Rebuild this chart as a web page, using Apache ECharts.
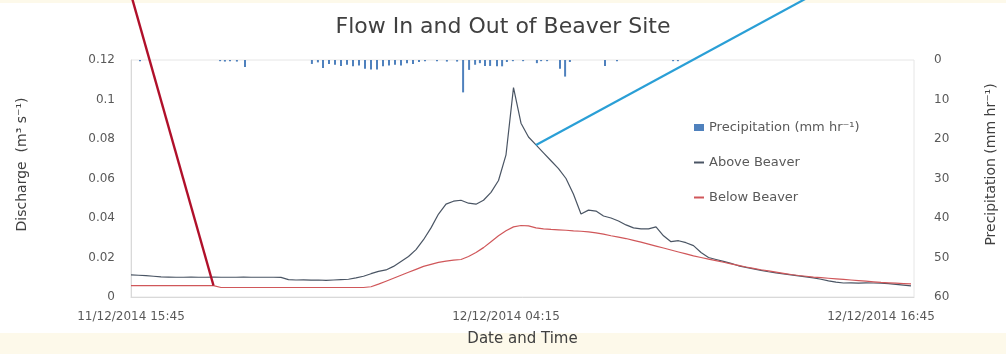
<!DOCTYPE html>
<html><head><meta charset="utf-8">
<script src="https://cdn.jsdelivr.net/npm/echarts@6/dist/echarts.min.js"></script>
<style>html,body{margin:0;padding:0;background:#fdf9ea;}#c{width:1006px;height:354px;}</style>
</head><body><div id="c"></div><script>
// Time step between discharge readings (hours) - 15 minute data
const stepHours = 0.25;
const xTickLabels = ['11/12/2014 15:45', '12/12/2014 04:15', '12/12/2014 16:45'];
const xTickIntervalHours = 12.5;

const aboveBeaver = [
0.0112,0.0110,0.0108,0.0105,0.0102,0.0101,0.0100,0.0100,0.0101,0.0100,
0.0100,0.0101,0.0100,0.0100,0.0100,0.0101,0.0100,0.0100,0.0100,0.0100,
0.0099,0.0088,0.0086,0.0087,0.0085,0.0086,0.0084,0.0086,0.0088,0.0090,
0.0097,0.0105,0.0118,0.0130,0.0137,0.0155,0.0180,0.0205,0.0240,0.0290,
0.0350,0.0420,0.0470,0.0485,0.0490,0.0475,0.0470,0.0490,0.0530,0.0590,
0.0720,0.1060,0.0880,0.0810,0.0770,0.0730,0.0690,0.0650,0.0600,0.0520,
0.0420,0.0440,0.0435,0.0410,0.0400,0.0385,0.0365,0.0350,0.0345,0.0345,
0.0355,0.0310,0.0280,0.0285,0.0275,0.0260,0.0225,0.0200,0.0190,0.0180,
0.0170,0.0158,0.0150,0.0142,0.0135,0.0128,0.0122,0.0117,0.0112,0.0107,
0.0102,0.0097,0.0090,0.0082,0.0075,0.0071,0.0072,0.0070,0.0072,0.0071,
0.0070,0.0068,0.0064,0.0060,0.0056];

const belowBeaver = [
0.0058,0.0058,0.0058,0.0058,0.0058,0.0058,0.0058,0.0058,0.0058,0.0058,
0.0058,0.0058,0.0048,0.0048,0.0048,0.0048,0.0048,0.0048,0.0048,0.0048,
0.0048,0.0048,0.0048,0.0048,0.0048,0.0048,0.0048,0.0048,0.0048,0.0048,
0.0048,0.0048,0.0052,0.0065,0.0080,0.0095,0.0110,0.0125,0.0140,0.0155,
0.0165,0.0175,0.0182,0.0187,0.0190,0.0205,0.0225,0.0250,0.0280,0.0310,
0.0335,0.0355,0.0362,0.0360,0.0350,0.0345,0.0342,0.0340,0.0338,0.0335,
0.0333,0.0330,0.0325,0.0318,0.0310,0.0303,0.0296,0.0287,0.0278,0.0268,
0.0258,0.0248,0.0238,0.0228,0.0218,0.0208,0.0200,0.0192,0.0184,0.0176,
0.0168,0.0160,0.0152,0.0145,0.0138,0.0132,0.0126,0.0120,0.0114,0.0109,
0.0105,0.0101,0.0098,0.0095,0.0092,0.0089,0.0086,0.0083,0.0080,0.0077,
0.0074,0.0072,0.0070,0.0068,0.0066];

// Precipitation: hours since 11/12/2014 15:45, and intensity (mm hr-1)
const precipHours = [0.3,2.97,3.13,3.3,3.53,3.8,6.03,6.23,6.4,6.6,6.8,7.0,7.2,7.4,7.6,7.8,8.0,8.2,8.4,8.6,8.8,9.0,9.2,9.4,9.6,9.8,10.2,10.53,10.87,11.07,11.27,11.47,11.63,11.8,11.97,12.2,12.37,12.53,12.73,13.07,13.53,13.67,13.87,14.3,14.47,14.63,15.8,16.2,18.07,18.23];
const precipMm    = [0.3,0.3,0.4,0.3,0.4,1.8,1.0,0.6,2.0,1.0,1.2,1.5,1.2,1.6,1.4,2.2,2.4,2.4,1.6,1.4,1.2,1.4,0.8,1.0,0.5,0.3,0.3,0.4,0.4,8.2,2.5,1.2,0.8,1.5,1.5,1.6,1.6,0.5,0.3,0.3,0.8,0.3,0.3,2.2,4.2,0.5,1.5,0.3,0.3,0.3];

// Annotation callout anchors (data indexes on the lines)
const redAnchorIndex = 11;
const blueAnchorIndex = 54;

const aboveData = aboveBeaver.map((v, i) => [i * stepHours, v]);
const belowData = belowBeaver.map((v, i) => [i * stepHours, v]);
const precipData = precipHours.map((h, i) => [h, precipMm[i]]);

const FONT = '"DejaVu Sans", "Open Sans", sans-serif';
const chart = echarts.init(document.getElementById('c'));
chart.setOption({
  backgroundColor: '#fdf9ea',
  animation: false,
  textStyle: { fontFamily: FONT },
  graphic: [{ type: 'rect', z: -10, shape: { x: 0, y: 3, width: 1006, height: 330 }, style: { fill: '#ffffff' }, silent: true }],
  title: {
    text: 'Flow In and Out of Beaver Site', left: 'center', top: 11,
    textStyle: { fontFamily: FONT, fontSize: 22, fontWeight: 'normal', color: '#404040' }
  },
  legend: {
    orient: 'vertical', left: 688, top: 116, itemGap: 22, itemWidth: 10, itemHeight: 7,
    textStyle: { fontFamily: FONT, fontSize: 13, color: '#595959' },
    data: [
      { name: 'Precipitation (mm hr⁻¹)', icon: 'rect', itemStyle: { color: '#4f81bd' } },
      { name: 'Above Beaver', itemStyle: { opacity: 0 } },
      { name: 'Below Beaver', itemStyle: { opacity: 0 } }
    ]
  },
  grid: { left: 131, right: 91, top: 60, bottom: 57, show: true, borderColor: '#e6e6e6', borderWidth: 1 },
  xAxis: {
    type: 'value', min: 0, max: 26.1, interval: xTickIntervalHours,
    name: 'Date and Time', nameLocation: 'middle', nameGap: 35,
    nameTextStyle: { fontFamily: FONT, fontSize: 15, color: '#404040' },
    axisLine: { show: true, lineStyle: { color: '#d9d9d9' } },
    axisTick: { show: false }, splitLine: { show: false },
    axisLabel: {
      fontFamily: FONT, fontSize: 12, color: '#595959', margin: 14,
      formatter: v => { const k = v / xTickIntervalHours; return Number.isInteger(k) && xTickLabels[k] ? xTickLabels[k] : ''; }
    }
  },
  yAxis: [{
    type: 'value', min: 0, max: 0.12, interval: 0.02,
    name: 'Discharge  (m³ s⁻¹)', nameLocation: 'middle', nameGap: 102, nameRotate: 90,
    nameTextStyle: { fontFamily: FONT, fontSize: 14, color: '#404040', padding: [0, 0, 0, 28] },
    axisLine: { show: true, lineStyle: { color: '#d9d9d9' } },
    axisTick: { show: false }, splitLine: { show: false },
    axisLabel: { fontFamily: FONT, fontSize: 12, color: '#595959', margin: 16 }
  }, {
    type: 'value', min: 0, max: 60, interval: 10, inverse: true, position: 'right',
    name: 'Precipitation (mm hr⁻¹)', nameLocation: 'middle', nameGap: 70, nameRotate: 90,
    nameTextStyle: { fontFamily: FONT, fontSize: 14, color: '#404040', padding: [0, 0, 0, 28] },
    axisLine: { show: false }, axisTick: { show: false }, splitLine: { show: false },
    axisLabel: { fontFamily: FONT, fontSize: 12, color: '#595959', margin: 20 }
  }],
  series: [{
    name: 'Precipitation (mm hr⁻¹)', type: 'bar', yAxisIndex: 1, data: precipData,
    barWidth: 2, itemStyle: { color: '#4f81bd' }
  }, {
    name: 'Above Beaver', type: 'line', data: aboveData, symbol: 'none', clip: false,
    lineStyle: { color: '#4a5564', width: 1.2 }, itemStyle: { color: '#4a5564' },
    markLine: {
      silent: true, symbol: 'none', label: { show: false },
      lineStyle: { color: '#2a9fd6', width: 2.2, type: 'solid' },
      data: [[{ coord: aboveData[blueAnchorIndex] }, { x: 807, y: -2 }]]
    }
  }, {
    name: 'Below Beaver', type: 'line', data: belowData, symbol: 'none', clip: false,
    lineStyle: { color: '#d0575a', width: 1.2 }, itemStyle: { color: '#d0575a' },
    markLine: {
      silent: true, symbol: 'none', label: { show: false },
      lineStyle: { color: '#b0102a', width: 2.4, type: 'solid' },
      data: [[{ coord: belowData[redAnchorIndex] }, { x: 132, y: -2 }]]
    }
  }]
});
</script></body></html>
